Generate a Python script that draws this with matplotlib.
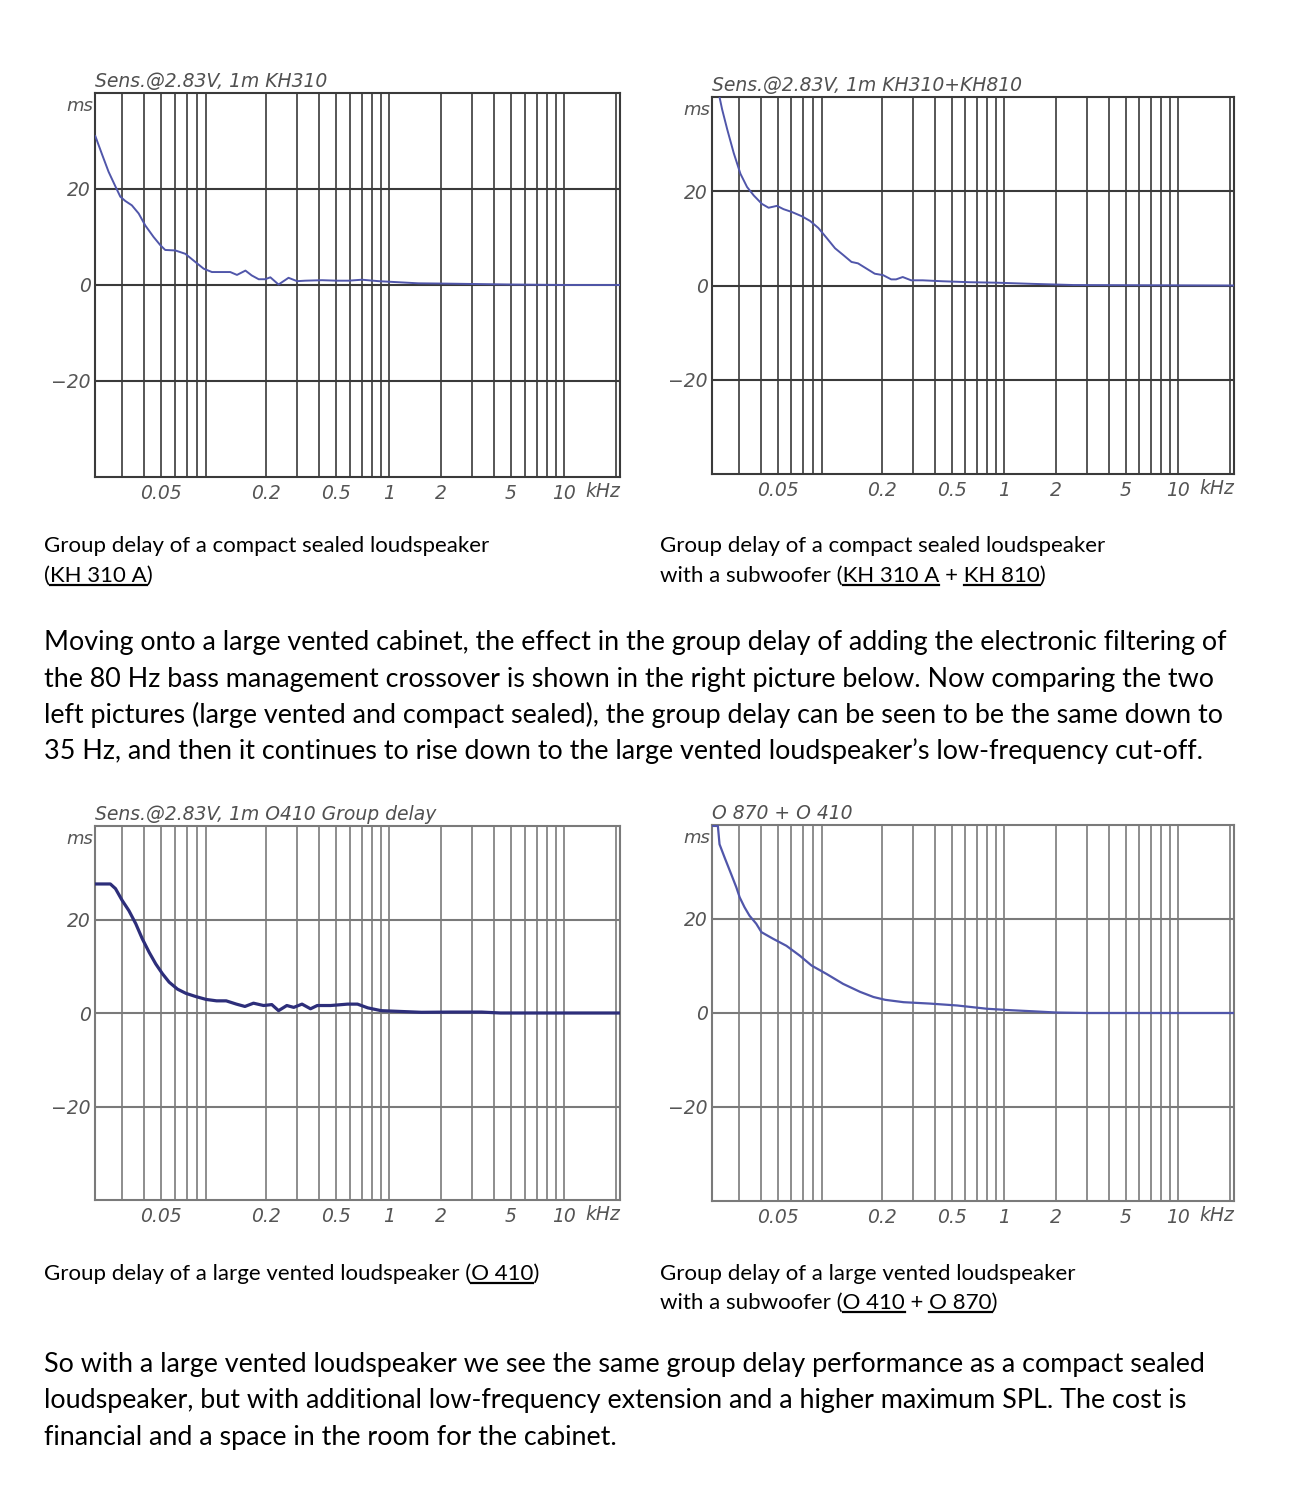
import numpy as np
import matplotlib
matplotlib.use('Agg')
import matplotlib.pyplot as plt
from matplotlib.ticker import FixedLocator, FixedFormatter, LogLocator, NullFormatter
from matplotlib.lines import Line2D

# ==============================================================================
# Constants
#
FIG_W, FIG_H = 1298, 1500
DPI = 100
TEXT_FONT = ['Lato', 'DejaVu Sans']
PLOT_FONT = ['DejaVu Sans']
CAPTION_SIZE = 16
PARAGRAPH_SIZE = 19.4

# ==============================================================================
# Data (frequency in Hz, group delay in ms)
#
kh310_freq = [21.1, 23.1, 25.1, 27.5, 29.3, 31.3, 34.1, 37.3, 40.7, 45.4,
              49.6, 52.9, 60.4, 68.9, 78.6, 87.7, 97.8, 111.6, 124.5, 136,
              152, 165, 181, 197, 211, 235, 268, 300, 334, 416, 506, 590, 704,
              876, 1480, 2000, 5000, 10000, 21000]
kh310_delay = [31.0, 27.1, 23.6, 20.5, 18.4, 17.5, 16.6, 14.9, 12.4, 10.0,
               8.3, 7.3, 7.2, 6.5, 4.8, 3.4, 2.7, 2.7, 2.7, 2.1, 3.0, 2.0, 1.2,
               1.2, 1.6, 0.1, 1.5, 0.8, 0.9, 1.0, 0.9, 0.9, 1.1, 0.8, 0.35,
               0.3, 0.1, 0.0, 0.0]

kh810_freq = [21.1, 23.1, 24.0, 25.7, 28.0, 30.6, 33.4, 36.5, 40.7, 44.4,
              49.6, 54.1, 60.4, 68.9, 76.9, 85.8, 95.7, 107, 119, 133, 145,
              162, 181, 202, 225, 240, 262, 293, 341, 444, 632, 895, 1450,
              2500, 21000]
kh810_delay = [40.3, 40.3, 37.4, 33.1, 28.1, 23.7, 20.9, 19.1, 17.3, 16.5,
               16.9, 16.2, 15.6, 14.7, 13.7, 12.2, 10.1, 7.9, 6.5, 5.0, 4.7,
               3.6, 2.5, 2.2, 1.3, 1.3, 1.8, 1.1, 1.1, 0.9, 0.7, 0.6, 0.35,
               0.1, 0.0]

o410_freq = [21.0, 25.7, 27.5, 30.0, 32.8, 35.9, 39.1, 42.8, 46.7, 51.0, 55.7,
             62.2, 69.5, 79.4, 90.7, 104, 118, 135, 151, 169, 193, 215, 235,
             262, 287, 320, 358, 391, 466, 583, 664, 760, 906, 1540, 2260,
             3400, 4360, 21000]
o410_delay = [27.6, 27.6, 26.6, 24.1, 21.9, 19.1, 15.9, 13.0, 10.5, 8.4, 6.6,
              5.1, 4.2, 3.5, 2.9, 2.6, 2.6, 1.9, 1.4, 2.1, 1.6, 1.8, 0.5, 1.6,
              1.2, 1.9, 0.9, 1.6, 1.6, 1.9, 1.9, 1.1, 0.5, 0.15, 0.2, 0.2, 0.0,
              0.0]

o870_freq = [21.0, 22.7, 23.2, 24.8, 27.1, 29.0, 30.3, 32.3, 34.5, 37.7, 40.4,
             47.1, 56.2, 67.1, 78.4, 95.7, 119, 149, 178, 208, 265, 377, 538,
             800, 1090, 1490, 2000, 3000, 21000]
o870_delay = [39.8, 39.8, 35.9, 33.1, 29.5, 26.7, 24.6, 22.5, 20.7, 19.0, 17.2,
              15.8, 14.3, 12.2, 10.1, 8.3, 6.2, 4.5, 3.4, 2.8, 2.3, 2.0, 1.6,
              0.9, 0.6, 0.35, 0.1, 0.0, 0.0]

x_tick_freqs = [50, 200, 500, 1000, 2000, 5000, 10000]
x_tick_labels = ['0.05', '0.2', '0.5', '1', '2', '5', '10']
y_ticks = [-20, 0, 20]
y_tick_labels = ['\u221220', '0', '20']

panel_titles = ['Sens.@2.83V, 1m KH310', 'Sens.@2.83V, 1m KH310+KH810',
                'Sens.@2.83V, 1m O410 Group delay', 'O 870 + O 410']

paragraph_1 = [
    'Moving onto a large vented cabinet, the effect in the group delay of adding the electronic filtering of',
    'the 80 Hz bass management crossover is shown in the right picture below. Now comparing the two',
    'left pictures (large vented and compact sealed), the group delay can be seen to be the same down to',
    '35 Hz, and then it continues to rise down to the large vented loudspeaker\u2019s low-frequency cut-off.',
]
paragraph_2 = [
    'So with a large vented loudspeaker we see the same group delay performance as a compact sealed',
    'loudspeaker, but with additional low-frequency extension and a higher maximum SPL. The cost is',
    'financial and a space in the room for the cabinet.',
]

# ==============================================================================
# Helpers
#
fig = plt.figure(figsize=(FIG_W / DPI, FIG_H / DPI), dpi=DPI)
fig.patch.set_facecolor('white')
renderer = fig.canvas.get_renderer()


def px_axes(left, top, right, bottom):
    return fig.add_axes([left / FIG_W, 1 - bottom / FIG_H,
                         (right - left) / FIG_W, (bottom - top) / FIG_H])


def delay_plot(ax, freq, delay, title, line_color, line_width, grid_color):
    ax.plot(freq, delay, color=line_color, lw=line_width, zorder=3,
            solid_joinstyle='round')
    ax.set_xscale('log')
    ax.set_xlim(21, 21000)
    ax.set_ylim(-40, 40)
                                                                   # grid lines
    ax.xaxis.set_major_locator(FixedLocator(x_tick_freqs))
    ax.xaxis.set_major_formatter(FixedFormatter(x_tick_labels))
    ax.xaxis.set_minor_locator(LogLocator(base=10, subs=np.arange(2, 10)))
    ax.xaxis.set_minor_formatter(NullFormatter())
    ax.set_yticks(y_ticks)
    ax.set_yticklabels(y_tick_labels)
    ax.grid(True, which='both', axis='x', color=grid_color, lw=1.2)
    ax.grid(True, which='major', axis='y', color=grid_color, lw=1.5)
    ax.tick_params(which='both', length=0)
    ax.tick_params(axis='x', pad=5)
    ax.tick_params(axis='y', pad=3)
    for lab in ax.get_xticklabels() + ax.get_yticklabels():
        lab.set_fontstyle('italic')
        lab.set_fontsize(13.5)
        lab.set_color('#555555')
        lab.set_family(PLOT_FONT)
    for spine in ax.spines.values():
        spine.set_color(grid_color)
        spine.set_linewidth(1.5)
                                                                 # axis labels
    ax.text(-0.004, 0.99, 'ms', transform=ax.transAxes, ha='right', va='top',
            fontsize=13, style='italic', color='#555555', family=PLOT_FONT)
    ax.text(1.0, -0.013, 'kHz', transform=ax.transAxes, ha='right', va='top',
            fontsize=13.5, style='italic', color='#555555', family=PLOT_FONT)
    ax.text(0.0, 1.006, title, transform=ax.transAxes, ha='left',
            va='bottom', fontsize=13.5, style='italic', color='#505050',
            family=PLOT_FONT)


def text_width(s, **kw):
    t = fig.text(0, 0, s, **kw)
    w = t.get_window_extent(renderer).width
    t.remove()
    return w


def rich_line(x, y, line, underlined=(), size=CAPTION_SIZE):
    kw = dict(fontsize=size, family=TEXT_FONT, color='black')
    fig.text(x / FIG_W, 1 - y / FIG_H, line, ha='left', va='baseline', **kw)
    for seg in underlined:
        i = line.index(seg)
        end = text_width(line[:i + len(seg)], **kw)
        seg_w = text_width(seg, **kw)
        x0, x1 = x + end - seg_w, x + end
        fig.add_artist(Line2D([x0 / FIG_W, x1 / FIG_W],
                              [1 - (y + 3) / FIG_H] * 2, color='black',
                              lw=1.6, transform=fig.transFigure))

# ==============================================================================
# Main
#
                                                                   # the plots
ax_tl = px_axes(95, 93, 620, 477)
delay_plot(ax_tl, kh310_freq, kh310_delay, panel_titles[0],
           '#5056aa', 1.4, '#3a3a3a')
ax_tr = px_axes(712, 97, 1234, 474)
delay_plot(ax_tr, kh810_freq, kh810_delay, panel_titles[1],
           '#5056aa', 1.4, '#3a3a3a')
ax_bl = px_axes(95, 826, 620, 1200)
delay_plot(ax_bl, o410_freq, o410_delay, panel_titles[2],
           '#2d2e7a', 2.3, '#7a7a7a')
ax_br = px_axes(712, 825, 1234, 1201)
delay_plot(ax_br, o870_freq, o870_delay, panel_titles[3],
           '#5056aa', 1.6, '#7a7a7a')
                                                                    # captions
rich_line(44, 552, 'Group delay of a compact sealed loudspeaker')
rich_line(44, 582, '(KH 310 A)', ['KH 310 A'])
rich_line(660, 552, 'Group delay of a compact sealed loudspeaker')
rich_line(660, 582, 'with a subwoofer (KH 310 A + KH 810)',
          ['KH 310 A', 'KH 810'])
rich_line(44, 1280, 'Group delay of a large vented loudspeaker (O 410)',
          ['O 410'])
rich_line(660, 1280, 'Group delay of a large vented loudspeaker')
rich_line(660, 1309, 'with a subwoofer (O 410 + O 870)', ['O 410', 'O 870'])
                                                                  # paragraphs
for k, line in enumerate(paragraph_1):
    rich_line(44, 650 + 36.5 * k, line, size=PARAGRAPH_SIZE)
for k, line in enumerate(paragraph_2):
    rich_line(44, 1372 + 36.3 * k, line, size=PARAGRAPH_SIZE)

fig.savefig('out.png', dpi=DPI, facecolor='white')
